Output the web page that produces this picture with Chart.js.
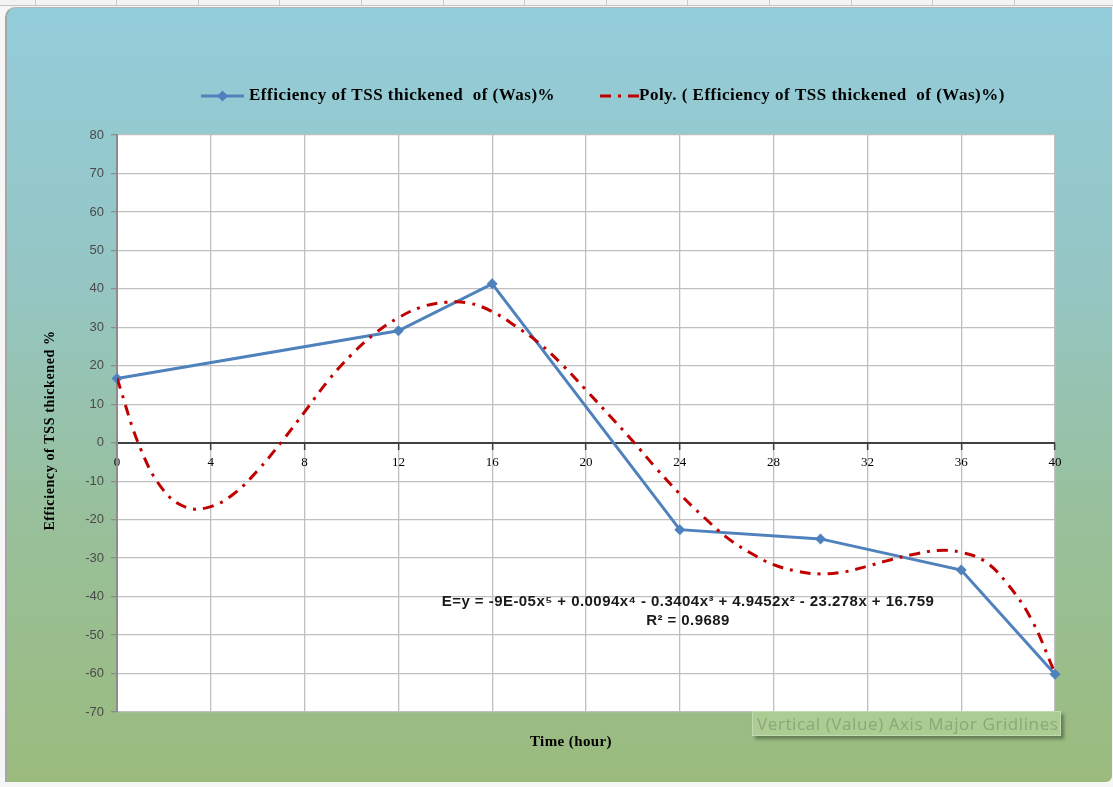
<!DOCTYPE html>
<html>
<head>
<meta charset="utf-8">
<title>Efficiency of TSS thickened</title>
<script src="https://cdn.jsdelivr.net/npm/chart.js@4.4.1/dist/chart.umd.min.js"></script>
<style>
  html, body { margin: 0; padding: 0; width: 1113px; height: 787px; overflow: hidden; background: #f6f6f6; font-family: "Liberation Sans", sans-serif; }
  #ruler { position: absolute; left: 0; top: 0; width: 1113px; height: 5px; background-color: #f3f3f3;
           background-image: repeating-linear-gradient(90deg, transparent 0 80.6px, #c9c9c9 80.6px 81.6px);
           background-position: -46px 0; border-bottom: 1px solid #c4c4c4; }
  #frame { position: absolute; left: 5px; top: 7px; width: 1107px; height: 775px; box-sizing: border-box;
           background: linear-gradient(180deg, #93ccda 0%, #95c6c4 35%, #98c09c 65%, #9bbb7d 100%);
           border-left: 2px solid #a6a6a6; border-top: 1px solid #b5b5b5; border-top-left-radius: 10px; border-bottom-right-radius: 6px; }
  #wrap { position: absolute; left: 0; top: 0; width: 1113px; height: 787px; }
  #tip { position: absolute; left: 752px; top: 711px; width: 309px; height: 25px; box-sizing: border-box;
         background: rgba(172, 205, 148, 0.92); border: 1px solid #c3d9b0; box-shadow: 3px 3px 3px rgba(55, 75, 45, 0.55);
         color: #8ba877; font: 17px "Open Sans", sans-serif; letter-spacing: 0.6px; line-height: 23px; padding-left: 4px; white-space: nowrap; }
</style>
</head>
<body>
<div id="ruler"></div>
<div id="frame"></div>
<div id="wrap"><canvas id="chart" width="1113" height="787"></canvas></div>
<div id="tip">Vertical (Value) Axis Major Gridlines</div>
<script>
// Measured efficiency of TSS thickening of the waste activated sludge
const hours = [0, 12, 16, 24, 30, 36, 40];
const efficiency = [16.7, 29.1, 41.3, -22.6, -25.0, -33.1, -60.2];

// Polynomial (order 5) trend curve, sampled hourly
const trendHours = [0, 1, 2, 3, 4, 5, 6, 7, 8, 9, 10, 11, 12, 13, 14, 15, 16, 17, 18, 19, 20,
                    21, 22, 23, 24, 25, 26, 27, 28, 29, 30, 31, 32, 33, 34, 35, 36, 37, 38, 39, 40];
const trendValues = [16.8, -1.5, -12.5, -16.9, -16.6, -13.2, -7.2, 0.1, 8.0, 16.1, 22.9,
                     28.4, 32.5, 35.3, 36.5, 36.3, 34.1, 30.3, 25.9, 20.2, 13.7,
                     7.1, 0.4, -6.7, -13.3, -19.2, -24.6, -28.6, -31.7, -33.4, -34.1,
                     -33.6, -32.1, -30.4, -29.0, -28.0, -28.5, -30.8, -36.9, -46.0, -59.9];

// Axis ranges and tick steps
const xRange = [0, 40];
const xStep = 4;
const yRange = [-70, 80];
const yStep = 10;

const seriesName = 'Efficiency of TSS thickened  of (Was)%';
const trendName = 'Poly. ( Efficiency of TSS thickened  of (Was)%)';
const equationText = 'E=y = -9E-05x\u2075 + 0.0094x\u2074 - 0.3404x\u00B3 + 4.9452x\u00B2 - 23.278x + 16.759';
const rSquaredText = 'R\u00B2 = 0.9689';
const xTitle = 'Time (hour)';
const yTitle = 'Efficiency of TSS thickened %';

const BLUE = '#4F81BD';
const RED = '#C00000';
const DASH = [11, 7, 3, 7];

function spaced(ctx, px) {
  if ('letterSpacing' in ctx) ctx.letterSpacing = px + 'px';
}

const plotBackground = {
  id: 'plotBackground',
  beforeDraw(chart) {
    const { ctx, chartArea: a } = chart;
    ctx.save();
    ctx.fillStyle = '#ffffff';
    ctx.fillRect(a.left, a.top, a.right - a.left, a.bottom - a.top);
    ctx.restore();
  }
};

const annotations = {
  id: 'annotations',
  afterDraw(chart) {
    const { ctx, scales, chartArea } = chart;
    ctx.save();

    // Legend
    const ly = 96;
    ctx.lineWidth = 3;
    ctx.strokeStyle = BLUE;
    ctx.beginPath(); ctx.moveTo(201, ly); ctx.lineTo(244, ly); ctx.stroke();
    ctx.fillStyle = BLUE;
    ctx.beginPath();
    ctx.moveTo(222.5, ly - 5.5); ctx.lineTo(228, ly); ctx.lineTo(222.5, ly + 5.5); ctx.lineTo(217, ly);
    ctx.closePath(); ctx.fill();

    ctx.strokeStyle = RED;
    ctx.setLineDash(DASH);
    ctx.beginPath(); ctx.moveTo(600, ly); ctx.lineTo(640, ly); ctx.stroke();
    ctx.setLineDash([]);

    ctx.fillStyle = '#000000';
    ctx.textBaseline = 'middle';
    ctx.textAlign = 'left';
    ctx.font = 'bold 17px "Liberation Serif", serif';
    spaced(ctx, 0.5);
    ctx.fillText(seriesName, 249, ly);
    ctx.fillText(trendName, 639, ly);

    // X axis title
    ctx.textAlign = 'center';
    ctx.font = 'bold 15px "Liberation Serif", serif';
    spaced(ctx, 0.4);
    ctx.fillText(xTitle, 571, 742);

    // Y axis title
    ctx.save();
    ctx.translate(50, (chartArea.top + chartArea.bottom) / 2 + 7);
    ctx.rotate(-Math.PI / 2);
    ctx.font = 'bold 14px "Liberation Serif", serif';
    spaced(ctx, 0.6);
    ctx.fillText(yTitle, 0, 0);
    ctx.restore();

    // Trend equation and R squared
    const ex = scales.x.getPixelForValue(24.35);
    const ey = scales.y.getPixelForValue(-41.3);
    ctx.fillStyle = '#1a1a1a';
    ctx.font = 'bold 15px "Liberation Sans", sans-serif';
    spaced(ctx, 0.45);
    ctx.fillText(equationText, ex, ey);
    ctx.fillText(rSquaredText, ex, ey + 19);

    ctx.restore();
  }
};

new Chart(document.getElementById('chart'), {
  type: 'line',
  data: {
    datasets: [
      {
        label: trendName,
        data: trendHours.map((h, i) => ({ x: h, y: trendValues[i] })),
        borderColor: RED,
        borderWidth: 3,
        borderDash: DASH,
        borderCapStyle: 'butt',
        tension: 0.4,
        pointRadius: 0,
        fill: false,
        order: 0
      },
      {
        label: seriesName,
        data: hours.map((h, i) => ({ x: h, y: efficiency[i] })),
        borderColor: BLUE,
        backgroundColor: BLUE,
        borderWidth: 3,
        tension: 0,
        pointStyle: 'rectRot',
        pointRadius: 5.5,
        pointBorderWidth: 0,
        pointBackgroundColor: BLUE,
        fill: false,
        clip: false,
        order: 1
      }
    ]
  },
  options: {
    responsive: false,
    animation: false,
    events: [],
    layout: { padding: { left: 40, right: 58, top: 135, bottom: 75 } },
    plugins: { legend: { display: false }, tooltip: { enabled: false } },
    scales: {
      x: {
        type: 'linear',
        position: { y: 0 },
        min: xRange[0],
        max: xRange[1],
        ticks: { stepSize: xStep, color: '#000000', padding: 6, maxRotation: 0,
                 font: { family: '"Liberation Serif", serif', size: 13 } },
        grid: { color: '#BFBFBF', lineWidth: 1.3, tickLength: 6, tickColor: '#404040', tickWidth: 1.5 },
        border: { color: '#404040', width: 2 }
      },
      y: {
        min: yRange[0],
        max: yRange[1],
        ticks: { stepSize: yStep, color: '#4a4a4a', padding: 7,
                 font: { family: '"Liberation Sans", sans-serif', size: 13 } },
        grid: { color: '#BFBFBF', lineWidth: 1.3, tickLength: 6, tickColor: '#8c8c8c' },
        border: { color: '#8c8c8c', width: 2 },
        title: { display: false },
        afterFit(scale) { scale.width = 77; }
      }
    }
  },
  plugins: [plotBackground, annotations]
});
</script>
</body>
</html>
